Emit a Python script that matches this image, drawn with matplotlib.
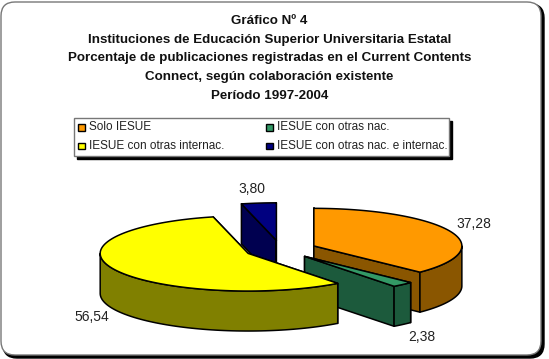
import numpy as np
import matplotlib
matplotlib.use('Agg')
import matplotlib.pyplot as plt
from matplotlib.patches import FancyBboxPatch, Polygon, Rectangle

plt.rcParams['font.family'] = ['Liberation Sans', 'DejaVu Sans']

title_lines = ['Gráfico Nº 4',
               'Instituciones de Educación Superior Universitaria Estatal',
               'Porcentaje de publicaciones registradas en el Current Contents',
               'Connect, según colaboración existente',
               'Período 1997-2004']
categories = ['Solo IESUE', 'IESUE con otras nac.',
              'IESUE con otras internac.', 'IESUE con otras nac. e internac.']
values = [37.28, 2.38, 56.54, 3.80]
top_colors = ['#ff9900', '#339966', '#ffff00', '#000080']
side_colors = ['#8a5600', '#1c5a3c', '#808000', '#000050']

# pie geometry, in pixels
cx, cy = 280.7, 249.5
rx, ry = 148, 37.6
depth = 40
explode = 36

# label centres for each slice
label_pos = [(474, 224), (422, 337), (92, 317), (252, 189)]
draw_order = [3, 0, 1, 2]

fig = plt.figure(figsize=(5.49, 3.59), dpi=100)
ax = fig.add_axes([0, 0, 1, 1])
ax.set_xlim(0, 549)
ax.set_ylim(359, 0)
ax.axis('off')

# frame with heavy shadow on the right and bottom
ax.add_patch(FancyBboxPatch((15, 16), 517, 330, boxstyle='round,pad=12,rounding_size=14',
                            fc='black', ec='black', lw=1))
ax.add_patch(FancyBboxPatch((13, 14), 516, 329, boxstyle='round,pad=12,rounding_size=14',
                            fc='white', ec='#777777', lw=1))

for i, line in enumerate(title_lines):
    ax.text(269.5, 21 + i * 18.7, line, ha='center', va='center',
            fontsize=9.65, fontweight='bold', color='#111111')

# legend box
ax.add_patch(Rectangle((77, 121), 375, 38, fc='black', ec='black', lw=1))
ax.add_patch(Rectangle((74, 118), 375, 38, fc='white', ec='#777777', lw=1))
legend_x = [78, 266, 78, 266]
legend_y = [127.5, 127.5, 146, 146]
for name, c, lx, ly in zip(categories, top_colors, legend_x, legend_y):
    ax.add_patch(Rectangle((lx, ly - 3.5), 6.5, 6.5, fc=c, ec='black', lw=1))
    ax.text(lx + 11, ly, name, ha='left', va='center', fontsize=8.45, color='#222222')

# slice angles, clockwise from twelve o'clock
fracs = np.array(values) / sum(values) * 360
ends = np.cumsum(fracs)
starts = ends - fracs


def rim(ox, oy, a, drop=0):
    t = np.radians(a)
    return np.column_stack([ox + rx * np.sin(t), oy - ry * np.cos(t) + drop])


for i in draw_order:
    a0, a1 = starts[i], ends[i]
    mid = np.radians((a0 + a1) / 2)
    ox = cx + explode * np.sin(mid)
    oy = cy - explode * ry / rx * np.cos(mid)
    apex = np.array([[ox, oy]])

    # cut faces go first, the wall and the top then hide whatever faces away
    for a in (a0, a1):
        p = rim(ox, oy, np.array([a]))
        face = np.vstack([apex, p, p + [0, depth], apex + [0, depth]])
        ax.add_patch(Polygon(face, fc=side_colors[i], ec='black', lw=1.1, joinstyle='round'))

    w0, w1 = max(a0, 90), min(a1, 270)
    if w1 > w0:
        arc = np.linspace(w0, w1, 80)
        wall = np.vstack([rim(ox, oy, arc), rim(ox, oy, arc[::-1], depth)])
        ax.add_patch(Polygon(wall, fc=side_colors[i], ec='black', lw=1.1, joinstyle='round'))

    arc = np.linspace(a0, a1, 120)
    top = np.vstack([apex, rim(ox, oy, arc)])
    ax.add_patch(Polygon(top, fc=top_colors[i], ec='black', lw=1.1, joinstyle='round'))

for v, (tx, ty) in zip(values, label_pos):
    ax.text(tx, ty, f'{v:.2f}'.replace('.', ','), ha='center', va='center',
            fontsize=10, color='#222222')

fig.savefig('out.png', dpi=100)
